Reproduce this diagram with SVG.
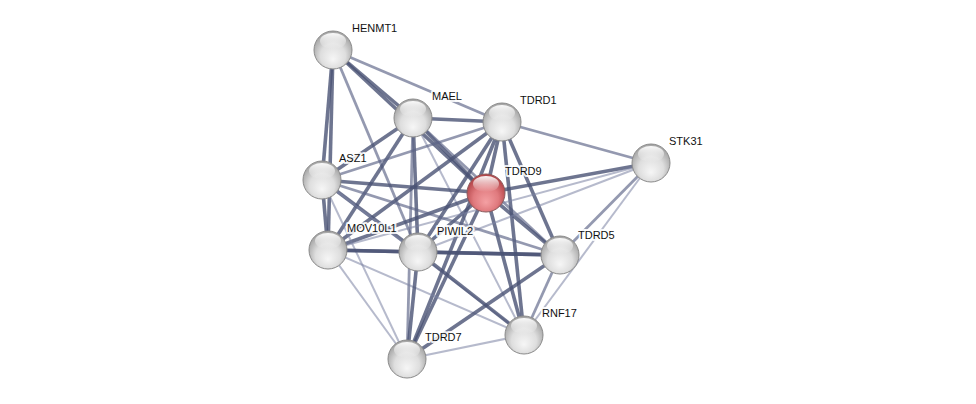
<svg xmlns="http://www.w3.org/2000/svg" width="976" height="404" viewBox="0 0 976 404">
<defs>
<radialGradient id="g" cx="50%" cy="60%" r="55%" fx="50%" fy="75%">
<stop offset="0" stop-color="#f6f6f6"/>
<stop offset="0.6" stop-color="#dedede"/>
<stop offset="1" stop-color="#a8a8a8"/>
</radialGradient>
<radialGradient id="r" cx="50%" cy="60%" r="55%" fx="50%" fy="75%">
<stop offset="0" stop-color="#f4a0a3"/>
<stop offset="0.6" stop-color="#e07a7e"/>
<stop offset="1" stop-color="#b5474b"/>
</radialGradient>
<linearGradient id="hl" x1="0" y1="0" x2="0" y2="1">
<stop offset="0" stop-color="#fff" stop-opacity="0.95"/>
<stop offset="1" stop-color="#fff" stop-opacity="0"/>
</linearGradient>
<g id="ball">
<circle r="19" fill="url(#g)" stroke="#8a8a8a" stroke-width="1"/>
<ellipse cx="0" cy="-9" rx="13" ry="8" fill="url(#hl)"/>
</g>
<g id="rball">
<circle r="19" fill="url(#r)" stroke="#8a5a5c" stroke-width="1"/>
<ellipse cx="0" cy="-9" rx="13" ry="8" fill="url(#hl)"/>
</g>
</defs>
<style>
.d{stroke:#4a5274;stroke-width:3.6;stroke-opacity:0.8;fill:none}
.m{stroke:#5a6286;stroke-width:2.8;stroke-opacity:0.65;fill:none}
.l{stroke:#7a82a2;stroke-width:2;stroke-opacity:0.55;fill:none}
text{font-family:"Liberation Sans",Arial,sans-serif;font-size:11px;fill:#111;paint-order:stroke;stroke:#fff;stroke-width:4;stroke-opacity:0.85;stroke-linejoin:round}
</style>
<rect width="976" height="404" fill="#fff"/>
<g id="edges">
<line class="d" x1="333" y1="50" x2="413" y2="118"/>
<line class="d" x1="333" y1="50" x2="486" y2="193"/>
<line class="m" x1="333" y1="50" x2="502" y2="122"/>
<line class="d" x1="333" y1="50" x2="322" y2="180"/>
<line class="d" x1="333" y1="50" x2="328" y2="250"/>
<line class="m" x1="333" y1="50" x2="418" y2="252"/>
<line class="d" x1="413" y1="118" x2="502" y2="122"/>
<line class="d" x1="413" y1="118" x2="322" y2="180"/>
<line class="d" x1="413" y1="118" x2="328" y2="250"/>
<line class="d" x1="413" y1="118" x2="418" y2="252"/>
<line class="d" x1="413" y1="118" x2="486" y2="193"/>
<line class="m" x1="413" y1="118" x2="560" y2="255"/>
<line class="l" x1="413" y1="118" x2="524" y2="335"/>
<line class="m" x1="413" y1="118" x2="407" y2="359"/>
<line class="m" x1="502" y1="122" x2="322" y2="180"/>
<line class="d" x1="502" y1="122" x2="328" y2="250"/>
<line class="d" x1="502" y1="122" x2="418" y2="252"/>
<line class="d" x1="502" y1="122" x2="486" y2="193"/>
<line class="d" x1="502" y1="122" x2="560" y2="255"/>
<line class="d" x1="502" y1="122" x2="524" y2="335"/>
<line class="d" x1="502" y1="122" x2="407" y2="359"/>
<line class="m" x1="502" y1="122" x2="651" y2="163"/>
<line class="d" x1="486" y1="193" x2="322" y2="180"/>
<line class="d" x1="486" y1="193" x2="328" y2="250"/>
<line class="d" x1="486" y1="193" x2="418" y2="252"/>
<line class="d" x1="486" y1="193" x2="560" y2="255"/>
<line class="d" x1="486" y1="193" x2="524" y2="335"/>
<line class="d" x1="486" y1="193" x2="407" y2="359"/>
<line class="d" x1="486" y1="193" x2="651" y2="163"/>
<line class="l" x1="651" y1="163" x2="418" y2="252"/>
<line class="l" x1="651" y1="163" x2="328" y2="250"/>
<line class="m" x1="651" y1="163" x2="560" y2="255"/>
<line class="l" x1="651" y1="163" x2="524" y2="335"/>
<line class="d" x1="322" y1="180" x2="328" y2="250"/>
<line class="d" x1="322" y1="180" x2="418" y2="252"/>
<line class="m" x1="322" y1="180" x2="560" y2="255"/>
<line class="l" x1="322" y1="180" x2="407" y2="359"/>
<line class="l" x1="322" y1="180" x2="524" y2="335"/>
<line class="d" x1="328" y1="250" x2="418" y2="252"/>
<line class="d" x1="328" y1="250" x2="560" y2="255"/>
<line class="l" x1="328" y1="250" x2="407" y2="359"/>
<line class="l" x1="328" y1="250" x2="524" y2="335"/>
<line class="d" x1="418" y1="252" x2="560" y2="255"/>
<line class="d" x1="418" y1="252" x2="524" y2="335"/>
<line class="d" x1="418" y1="252" x2="407" y2="359"/>
<line class="m" x1="560" y1="255" x2="524" y2="335"/>
<line class="d" x1="560" y1="255" x2="407" y2="359"/>
<line class="l" x1="524" y1="335" x2="407" y2="359"/>
</g>
<g id="HENMT1"><use href="#ball" x="333" y="50"/><text x="352" y="32">HENMT1</text></g>
<g id="MAEL"><use href="#ball" x="413" y="118"/><text x="432" y="100">MAEL</text></g>
<g id="TDRD1"><use href="#ball" x="502" y="122"/><text x="520" y="104">TDRD1</text></g>
<g id="STK31"><use href="#ball" x="651" y="163"/><text x="669" y="145">STK31</text></g>
<g id="ASZ1"><use href="#ball" x="322" y="180"/><text x="339" y="162">ASZ1</text></g>
<g id="TDRD9"><use href="#rball" x="486" y="193"/><text x="505" y="175">TDRD9</text></g>
<g id="MOV10L1"><use href="#ball" x="328" y="250"/><text x="347" y="232">MOV10L1</text></g>
<g id="PIWIL2"><use href="#ball" x="418" y="252"/><text x="437" y="235">PIWIL2</text></g>
<g id="TDRD5"><use href="#ball" x="560" y="255"/><text x="578" y="239">TDRD5</text></g>
<g id="RNF17"><use href="#ball" x="524" y="335"/><text x="542" y="317">RNF17</text></g>
<g id="TDRD7"><use href="#ball" x="407" y="359"/><text x="425" y="341">TDRD7</text></g>
</svg>
